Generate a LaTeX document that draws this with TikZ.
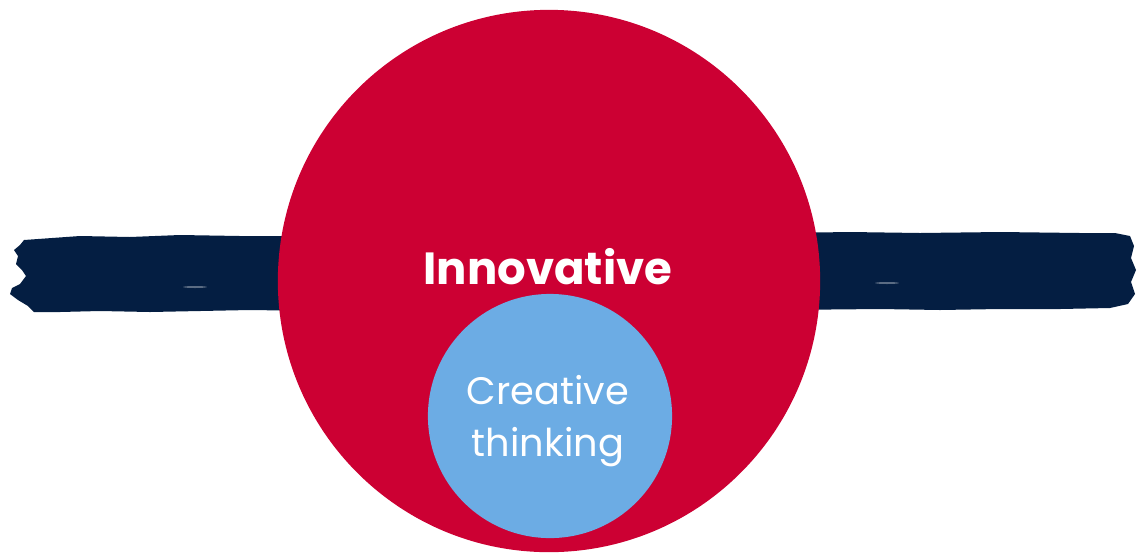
\documentclass[tikz,border=0pt]{standalone}
\usepackage{fontspec}
\setmainfont{Poppins}
\definecolor{innored}{HTML}{CC0033}
\definecolor{creablue}{HTML}{6CACE4}
\definecolor{brushnavy}{HTML}{041E42}
\tikzset{
  disc/.style={circle, inner sep=0pt},
  brush/.style={fill=brushnavy}
}
\begin{document}
\begin{tikzpicture}[x=0.01cm, y=-0.01cm]
    \useasboundingbox (0,0) rectangle (1139,554);
    % brush strokes behind the circle
    \fill[brush] (24,240) -- (80,236) -- (130,237) -- (180,235) -- (240,236) -- (320,236)
      -- (320,311) -- (250,310) -- (200,311) -- (150,312) -- (100,311) -- (60,312) -- (34,312)
      -- (28,306) -- (18,300) -- (10,294) -- (12,288) -- (20,284) -- (26,276) -- (22,270)
      -- (16,264) -- (18,256) -- (14,250) -- (20,245) -- cycle;
    \fill[brush] (780,233) -- (850,232) -- (920,233) -- (1000,232) -- (1080,233) -- (1115,233)
      -- (1130,236) -- (1134,246) -- (1131,258) -- (1136,270) -- (1131,282) -- (1135,294)
      -- (1128,304) -- (1110,308) -- (1060,309) -- (1000,309) -- (940,310) -- (880,309) -- (780,310) -- cycle;
    \fill[white, opacity=0.35] (195,287) ellipse (12 and 1);
    \fill[white, opacity=0.35] (887,283) ellipse (12 and 1);
    % circles
    \node[disc, fill=innored, minimum size=5.42cm] (outer) at (549,281) {};
    \node[disc, fill=creablue, minimum size=2.44cm] (inner) at (550,416) {};
    \node[text=white, font=\bfseries\fontsize{12.8}{14}\selectfont] (innovative) at (548,267) {Innovative};
    \node[text=white, align=center, font=\fontsize{10.9}{15}\selectfont] (creative) at (548,421) {Creative\\thinking};
\end{tikzpicture}
\end{document}
